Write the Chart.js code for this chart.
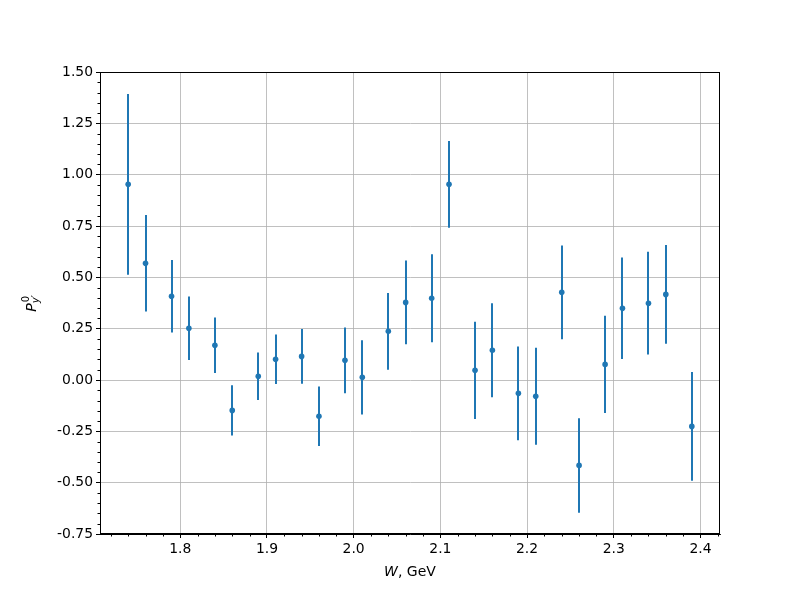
<!DOCTYPE html>
<html>
<head>
<meta charset="utf-8">
<script src="https://cdn.jsdelivr.net/npm/chart.js@4/dist/chart.umd.min.js"></script>
<style>
html,body{margin:0;padding:0;background:#fff;}
#c{display:block;}
</style>
</head>
<body>
<canvas id="c" width="800" height="600"></canvas>
<script>
// ---- data ----
const W = [1.74,1.76,1.79,1.81,1.84,1.86,1.89,1.91,1.94,1.96,1.99,2.01,2.04,2.06,2.09,2.11,2.14,2.16,2.19,2.21,2.24,2.26,2.29,2.31,2.34,2.36,2.39];
const P = [0.953,0.568,0.408,0.252,0.169,-0.148,0.018,0.101,0.115,-0.177,0.096,0.013,0.237,0.378,0.398,0.953,0.047,0.145,-0.065,-0.079,0.427,-0.416,0.076,0.349,0.374,0.417,-0.226];
const ERR = [0.44,0.235,0.177,0.155,0.135,0.122,0.116,0.12,0.133,0.145,0.16,0.181,0.187,0.204,0.214,0.211,0.237,0.229,0.228,0.236,0.228,0.23,0.237,0.247,0.25,0.24,0.265];
const xMajorTicks = [1.8,1.9,2.0,2.1,2.2,2.3,2.4];
const yMajorTicks = [-0.75,-0.5,-0.25,0,0.25,0.5,0.75,1.0,1.25,1.5];

const FONT = "'DejaVu Sans', sans-serif";
const BLUE = '#1f77b4';

const points = W.map((w,i)=>({x:w, y:P[i], e:ERR[i]}));

const errPlugin = {
  id:'errbars',
  beforeDatasetsDraw(chart){
    const {ctx, chartArea:a, scales:{x,y}} = chart;
    ctx.save();
    ctx.beginPath(); ctx.rect(a.left,a.top,a.right-a.left,a.bottom-a.top); ctx.clip();
    ctx.strokeStyle = BLUE; ctx.lineWidth = 2;
    points.forEach(p=>{
      const px = Math.round(x.getPixelForValue(p.x));
      ctx.beginPath();
      ctx.moveTo(px, y.getPixelForValue(p.y+p.e));
      ctx.lineTo(px, y.getPixelForValue(p.y-p.e));
      ctx.stroke();
    });
    ctx.restore();
  },
  afterDraw(chart){
    const {ctx, chartArea:a, scales:{x,y}} = chart;
    ctx.save();
    // frame
    ctx.strokeStyle = '#000'; ctx.lineWidth = 1;
    ctx.strokeRect(a.left+0.5, a.top+0.5, a.right-a.left-1, a.bottom-a.top-1);
    // minor ticks
    ctx.beginPath();
    for(let k=86;k<=121;k++){
      const v = k/50;
      if (k%5===0) continue;
      const px = Math.round(x.getPixelForValue(v))+0.5;
      if (px < a.left || px > a.right) continue;
      ctx.moveTo(px, a.bottom); ctx.lineTo(px, a.bottom+2.5);
    }
    for(let k=-15;k<=30;k++){
      if (k%5===0) continue;
      const v = k/20;
      const py = Math.round(y.getPixelForValue(v))+0.5;
      ctx.moveTo(a.left, py); ctx.lineTo(a.left-2.5, py);
    }
    ctx.stroke();
    // x title: W, GeV
    ctx.fillStyle = '#000';
    ctx.textBaseline = 'alphabetic';
    const cx = (a.left+a.right)/2, ty = 576;
    ctx.font = 'italic 14px ' + FONT;
    const w1 = ctx.measureText('W').width;
    ctx.font = '14px ' + FONT;
    const w2 = ctx.measureText(', GeV').width;
    let sx = cx - (w1+w2)/2;
    ctx.font = 'italic 14px ' + FONT; ctx.textAlign='left';
    ctx.fillText('W', sx, ty);
    ctx.font = '14px ' + FONT;
    ctx.fillText(', GeV', sx+w1, ty);
    // y title: P^0_{y'}
    ctx.translate(31, (a.top+a.bottom)/2);
    ctx.rotate(-Math.PI/2);
    ctx.font = 'italic 14px ' + FONT;
    const pw = ctx.measureText('P').width;
    ctx.font = '10px ' + FONT;
    const zw = ctx.measureText('0').width;
    ctx.font = 'italic 10px ' + FONT;
    const yw = ctx.measureText('y′').width;
    const total = pw + Math.max(zw, yw) + 1;
    let x0 = -total/2;
    ctx.font = 'italic 14px ' + FONT;
    ctx.fillText('P', x0, 5);
    ctx.font = '10px ' + FONT;
    ctx.fillText('0', x0+pw+1, -2);
    ctx.font = 'italic 10px ' + FONT;
    ctx.fillText('y′', x0+pw, 8);
    ctx.restore();
  }
};

new Chart(document.getElementById('c'), {
  type:'scatter',
  data:{
    datasets:[{
      data: points,
      backgroundColor: BLUE,
      borderColor: BLUE,
      pointRadius: 2.8,
      pointHoverRadius: 2.8,
      pointBorderWidth: 0,
      showLine:false
    }]
  },
  options:{
    responsive:false,
    animation:false,
    events:[],
    layout:{padding:{left:0, top:72, right:80, bottom:0}},
    plugins:{legend:{display:false}, tooltip:{enabled:false}},
    scales:{
      x:{
        type:'linear', min:1.7075, max:2.4225,
        afterBuildTicks(s){ s.ticks = xMajorTicks.map(v=>({value:v})); },
        afterFit(s){ s.height = 66; },
        ticks:{ color:'#000', font:{family:FONT, size:13.9}, padding:3, maxRotation:0, autoSkip:false,
          callback:(v)=>Number(v).toFixed(1) },
        grid:{ color:'#b0b0b0', lineWidth:0.8, tickColor:'#000', tickLength:4, tickWidth:1 },
        border:{ color:'#000', width:1 }
      },
      y:{
        type:'linear', min:-0.75, max:1.5,
        afterBuildTicks(s){ s.ticks = yMajorTicks.map(v=>({value:v})); },
        afterFit(s){ s.width = 100; },
        ticks:{ color:'#000', font:{family:FONT, size:13.9}, padding:3, autoSkip:false,
          callback:(v)=>Number(v).toFixed(2) },
        grid:{ color:'#b0b0b0', lineWidth:0.8, tickColor:'#000', tickLength:4, tickWidth:1 },
        border:{ color:'#000', width:1 }
      }
    }
  },
  plugins:[errPlugin]
});
</script>
</body>
</html>
